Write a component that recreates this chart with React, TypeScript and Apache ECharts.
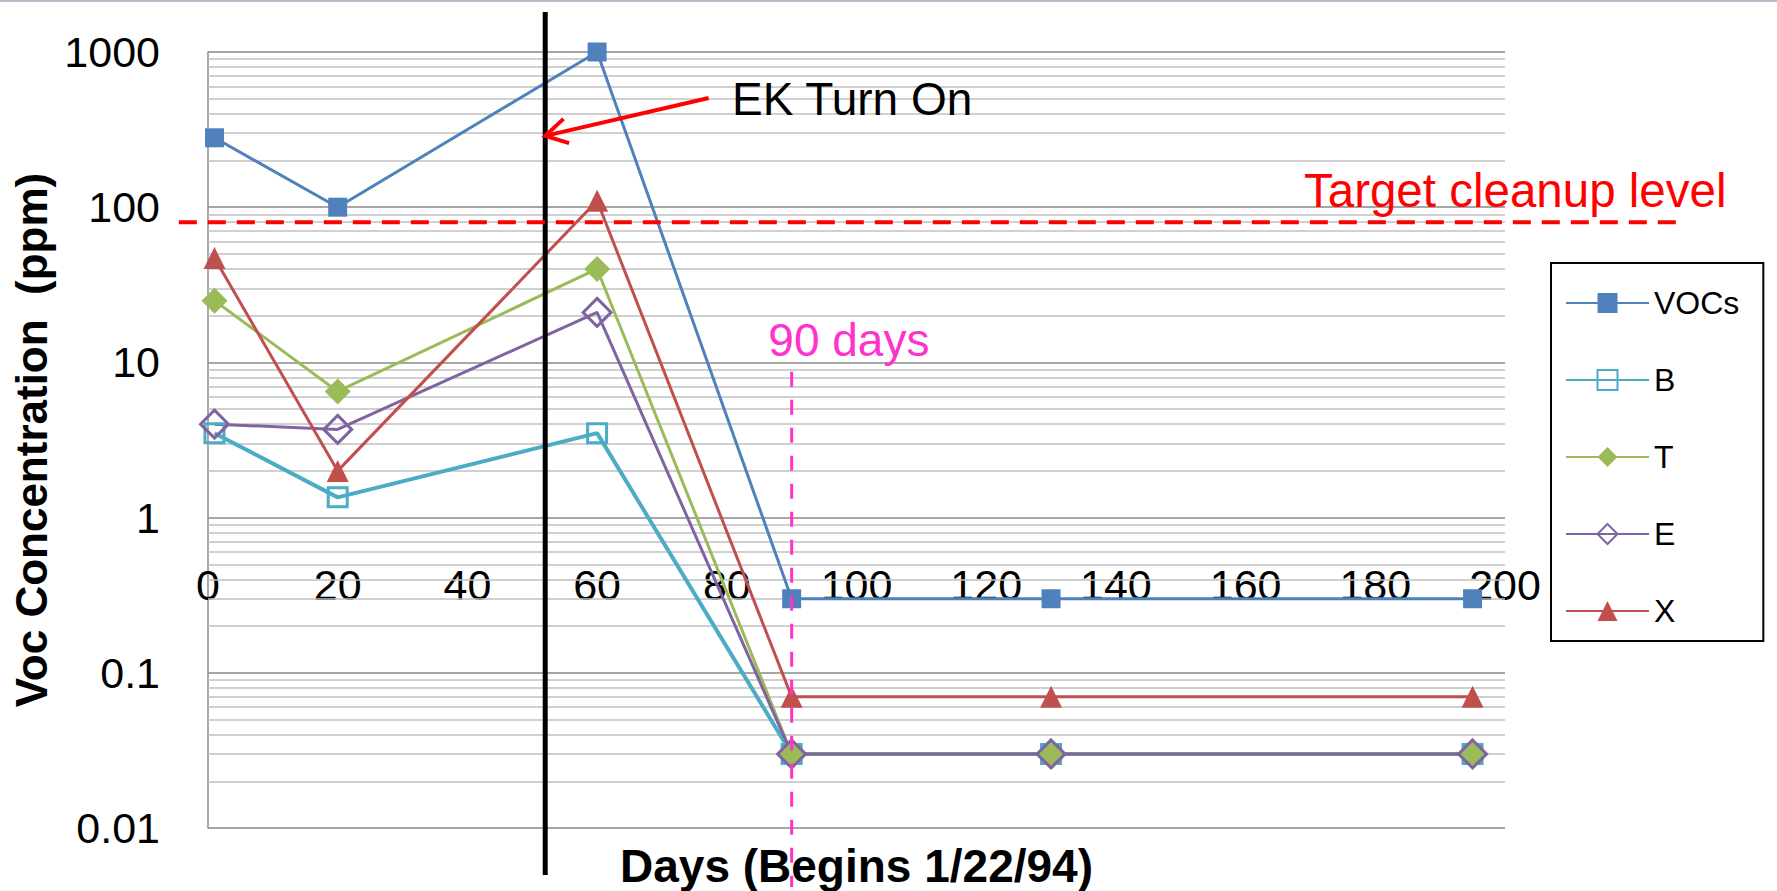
import React, { useEffect, useRef } from "react";
import * as echarts from "echarts";

// ---- data ----
const days = [1, 20, 60, 90, 130, 195];
const seriesNames = ["VOCs", "B", "T", "E", "X"];
const vocsValues = [280, 100, 1000, 0.3, 0.3, 0.3];
const bValues = [3.5, 1.35, 3.5, 0.03, 0.03, 0.03];
const tValues = [25, 6.5, 40, 0.03, 0.03, 0.03];
const eValues = [4, 3.7, 21, 0.03, 0.03, 0.03];
const xValues = [47, 2, 110, 0.07, 0.07, 0.07];
const xTickLabels = ["0", "20", "40", "60", "80", "100", "120", "140", "160", "180", "200"];
const yTickLabels = ["0.01", "0.1", "1", "10", "100", "1000"];
const minorGridValues = [
  0.02, 0.03, 0.04, 0.05, 0.06, 0.07, 0.08, 0.09,
  0.2, 0.3, 0.4, 0.5, 0.6, 0.7, 0.8, 0.9,
  2, 3, 4, 5, 6, 7, 8, 9,
  20, 30, 40, 50, 60, 70, 80, 90,
  200, 300, 400, 500, 600, 700, 800, 900,
];
// annotations (data units)
const targetLevel = 80;
const targetLineDays = [-4.5, 227];
const targetLabelPos = [169, 129];
const ekTurnOnDay = 52;
const ekArrowStart = [77.2, 505];
const ekArrowTipValue = 288;
const ekLabelPos = [80.8, 497];
const ninetyDay = 90;
const ninetyLineTopValue = 8.7;
const ninetyLabelPos = [86.4, 13.9];

const FONT = '"Liberation Sans", Arial, sans-serif';
const colors = ["#4F81BD", "#4BACC6", "#9BBB59", "#8064A2", "#C0504D"];
const symbols = ["rect", "rect", "diamond", "diamond", "triangle"];
const hollow = [false, true, false, true, false];
const symbolSizes = [19, 19, 26, 28, 22];
const lineWidths = [3, 4, 3, 3, 3];
const valueSets = [vocsValues, bValues, tValues, eValues, xValues];

export default function App() {
  const ref = useRef<HTMLDivElement>(null);
  useEffect(() => {
    document.body.style.margin = "0";
    const chart = echarts.init(ref.current!, undefined, { renderer: "svg" });
    const series: any[] = seriesNames.map((name, i) => ({
      name,
      type: "line",
      data: days.map((d, j) => [d, valueSets[i][j]]),
      symbol: symbols[i],
      symbolSize: symbolSizes[i],
      lineStyle: { color: colors[i], width: lineWidths[i] },
      itemStyle: hollow[i]
        ? { color: "rgba(0,0,0,0)", borderColor: colors[i], borderWidth: 3 }
        : { color: colors[i], borderWidth: 0 },
      z: 3,
    }));
    series.push({
      name: "_minor",
      type: "line",
      data: [],
      silent: true,
      z: 1,
      markLine: {
        silent: true,
        z: 1,
        symbol: ["none", "none"],
        label: { show: false },
        lineStyle: { color: "#c0c0c0", width: 1.5, type: "solid" },
        emphasis: { disabled: true },
        data: minorGridValues.map((v) => ({ yAxis: v })),
      },
    });
    const option: any = {
      animation: false,
      backgroundColor: "#fff",
      grid: { left: 208, top: 52, width: 1297, height: 776, containLabel: false, outerBoundsMode: "none" },
      legend: {
        data: seriesNames,
        orient: "vertical",
        left: 1551,
        top: 263,
        padding: [24, 24, 14, 14],
        borderColor: "#000",
        borderWidth: 2,
        backgroundColor: "#fff",
        itemWidth: 83,
        itemHeight: 25,
        itemGap: 45,
        textStyle: { fontSize: 32, color: "#000", fontFamily: FONT },
      },
      xAxis: {
        type: "value",
        min: 0,
        max: 200,
        interval: 20,
        position: "bottom",
        offset: -273,
        axisLine: { show: false, onZero: false },
        axisTick: { show: false },
        splitLine: { show: false },
        axisLabel: {
          margin: 8,
          fontSize: 43,
          color: "#000",
          fontFamily: FONT,
          showMinLabel: true,
          showMaxLabel: true,
          formatter: (v: number) => xTickLabels[Math.round(v / 20)] ?? String(v),
        },
        name: "Days (Begins 1/22/94)",
        nameLocation: "middle",
        nameGap: 288,
        nameTextStyle: { fontSize: 46, fontWeight: "bold", color: "#000", fontFamily: FONT },
      },
      yAxis: {
        type: "log",
        logBase: 10,
        min: 0.01,
        max: 1000,
        splitNumber: 5,
        axisLine: { show: true, lineStyle: { color: "#8c8c8c", width: 1.5 } },
        axisTick: { show: false },
        splitLine: { show: true, lineStyle: { color: "#888888", width: 1.5 } },
        axisLabel: {
          margin: 48,
          fontSize: 43,
          color: "#000",
          fontFamily: FONT,
          formatter: (v: number) => yTickLabels[Math.round(Math.log10(v)) + 2] ?? String(v),
        },
        name: "Voc Concentration  (ppm)",
        nameLocation: "middle",
        nameRotate: 90,
        nameGap: 152,
        nameTextStyle: { fontSize: 44, fontWeight: "bold", color: "#000", fontFamily: FONT },
      },
      series,
    };
    chart.setOption(option);

    const px = (x: number, y: number) => chart.convertToPixel({ gridIndex: 0 } as any, [x, y]) as number[];
    const topLeft = px(0, 1000);
    const bottomRight = px(200, 0.01);
    const gridTop = topLeft[1];
    const gridBottom = bottomRight[1];

    const bx = px(ekTurnOnDay, 1)[0];
    const ty = px(0, targetLevel)[1];
    const tx1 = px(targetLineDays[0], targetLevel)[0];
    const tx2 = px(targetLineDays[1], targetLevel)[0];
    const mx = px(ninetyDay, 1)[0];
    const mTop = px(ninetyDay, ninetyLineTopValue)[1];
    const aStart = px(ekArrowStart[0], ekArrowStart[1]);
    const aTip = px(ekTurnOnDay, ekArrowTipValue);
    const ekL = px(ekLabelPos[0], ekLabelPos[1]);
    const tgL = px(targetLabelPos[0], targetLabelPos[1]);
    const nnL = px(ninetyLabelPos[0], ninetyLabelPos[1]);

    // arrow head wings
    const dx = aStart[0] - aTip[0];
    const dy = aStart[1] - aTip[1];
    const len = Math.hypot(dx, dy);
    const ux = dx / len, uy = dy / len;
    const wing = 25, ang = (30 * Math.PI) / 180;
    const rot = (a: number) => [
      aTip[0] + wing * (ux * Math.cos(a) - uy * Math.sin(a)),
      aTip[1] + wing * (ux * Math.sin(a) + uy * Math.cos(a)),
    ];
    const w1 = rot(ang);
    const w2 = rot(-ang);

    chart.setOption({
      graphic: [
        {
          type: "line",
          z: 10,
          silent: true,
          shape: { x1: 0, y1: 1, x2: 1777, y2: 1 },
          style: { stroke: "#b4c0cc", lineWidth: 2 },
        },
        {
          type: "line",
          z: 10,
          silent: true,
          shape: { x1: bx, y1: gridTop - 40, x2: bx, y2: gridBottom + 47 },
          style: { stroke: "#000", lineWidth: 5 },
        },
        {
          type: "line",
          z: 10,
          silent: true,
          shape: { x1: tx1, y1: ty, x2: tx2, y2: ty },
          style: { stroke: "#FF0000", lineWidth: 4, lineDash: [18, 11] },
        },
        {
          type: "line",
          z: 10,
          silent: true,
          shape: { x1: mx, y1: mTop, x2: mx, y2: gridBottom + 59 },
          style: { stroke: "#FF33CC", lineWidth: 3, lineDash: [15, 13] },
        },
        {
          type: "line",
          z: 11,
          silent: true,
          shape: { x1: aStart[0], y1: aStart[1], x2: aTip[0], y2: aTip[1] },
          style: { stroke: "#FF0000", lineWidth: 4 },
        },
        {
          type: "polyline",
          z: 11,
          silent: true,
          shape: { points: [w1, aTip, w2] },
          style: { stroke: "#FF0000", lineWidth: 4, fill: null },
        },
        {
          type: "text",
          z: 11,
          silent: true,
          x: ekL[0],
          y: ekL[1],
          style: { text: "EK Turn On", fill: "#000", fontSize: 46, fontFamily: FONT, align: "left", verticalAlign: "middle" },
        },
        {
          type: "text",
          z: 11,
          silent: true,
          x: tgL[0],
          y: tgL[1],
          style: { text: "Target cleanup level", fill: "#FF0000", fontSize: 47.5, fontFamily: FONT, align: "left", verticalAlign: "middle" },
        },
        {
          type: "text",
          z: 11,
          silent: true,
          x: nnL[0],
          y: nnL[1],
          style: { text: "90 days", fill: "#FF33CC", fontSize: 46, fontFamily: FONT, align: "left", verticalAlign: "middle" },
        },
      ],
    });
    return () => chart.dispose();
  }, []);
  return <div ref={ref} style={{ width: 1777, height: 891, overflow: "hidden" }} />;
}
